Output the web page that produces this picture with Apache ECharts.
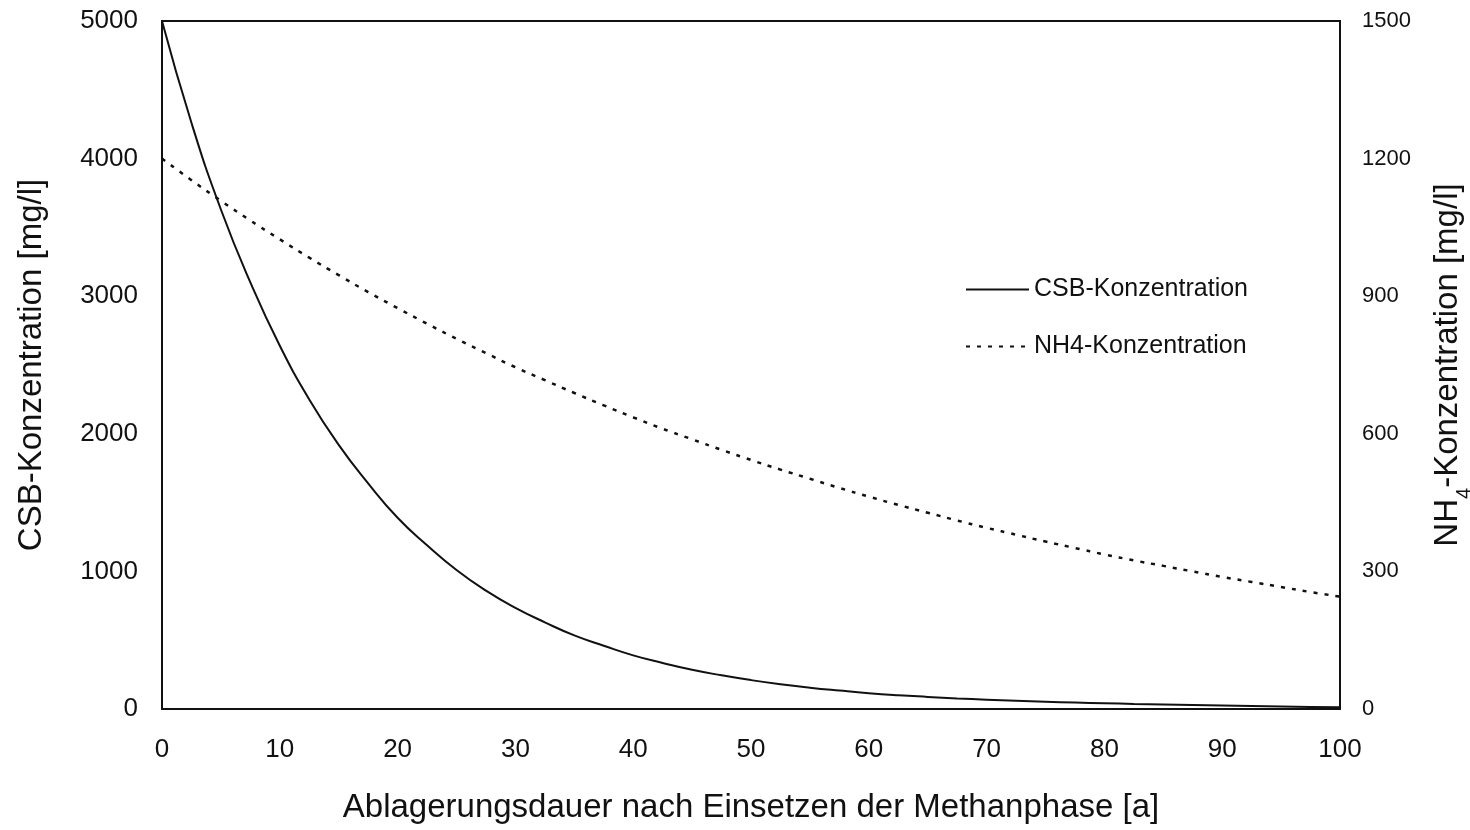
<!DOCTYPE html>
<html>
<head>
<meta charset="utf-8">
<script src="https://cdn.jsdelivr.net/npm/echarts@6/dist/echarts.min.js"></script>
<style>
html,body{margin:0;padding:0;background:#fff;}
#c{width:1470px;height:830px;}
</style>
</head>
<body>
<div id="c"></div>
<script>
const years = [0,2.5,5,7.5,10,12.5,15,17.5,20,22.5,25,27.5,30,32.5,35,37.5,40,42.5,45,47.5,50,52.5,55,57.5,60,62.5,65,67.5,70,72.5,75,77.5,80,82.5,85,87.5,90,92.5,95,97.5,100];
const csb   = [5000,4260,3630,3100,2640,2250,1920,1640,1390,1190,1010,860,735,630,535,460,390,335,285,245,210,180,155,134,115,100,88,77,68,60,53,47,42,37,33,29,25,21,18,15,12];
const nh4   = [1200,1153,1108,1065,1024,984,946,909,874,840,807,776,745,717,689,662,636,611,588,565,543,522,502,482,463,445,428,411,395,380,365,351,337,324,312,300,288,277,266,255,245];
const xTicks = [0,10,20,30,40,50,60,70,80,90,100];
const leftTicks = [0,1000,2000,3000,4000,5000];
const rightTicks = [0,300,600,900,1200,1500];
const seriesNames = ['CSB-Konzentration','NH4-Konzentration'];

const FONT = '"Liberation Sans", Arial, sans-serif';
const chart = echarts.init(document.getElementById('c'));
chart.setOption({
  backgroundColor: '#ffffff',
  animation: false,
  grid: {left:162, right:130, top:21, bottom:121, outerBoundsMode:'none', containLabel:false,
         show:true, borderColor:'#111', borderWidth:2, backgroundColor:'#fff'},
  legend: {
    orient:'vertical', left:965, top:277, padding:0, itemWidth:63, itemHeight:14, itemGap:32,
    data: seriesNames,
    itemStyle:{color:'rgba(0,0,0,0)', borderColor:'rgba(0,0,0,0)', borderWidth:0},
    textStyle:{fontFamily:FONT, fontSize:25, color:'#111'}
  },
  xAxis: {
    type:'value', min:xTicks[0], max:xTicks[xTicks.length-1], interval:10,
    name:'Ablagerungsdauer nach Einsetzen der Methanphase [a]',
    nameLocation:'middle', nameGap:82,
    nameTextStyle:{fontFamily:FONT, fontSize:33, color:'#111'},
    axisLine:{show:true, lineStyle:{color:'#111', width:2}},
    axisTick:{show:false}, splitLine:{show:false},
    axisLabel:{fontFamily:FONT, fontSize:26, color:'#111', margin:28, formatter:v=>String(v)}
  },
  yAxis: [{
    type:'value', min:leftTicks[0], max:leftTicks[leftTicks.length-1], interval:1000,
    name:'CSB-Konzentration [mg/l]', nameLocation:'middle', nameGap:114, nameRotate:90,
    nameTextStyle:{fontFamily:FONT, fontSize:33, color:'#111'},
    axisLine:{show:true, lineStyle:{color:'#111', width:2}},
    axisTick:{show:false}, splitLine:{show:false},
    axisLabel:{fontFamily:FONT, fontSize:26, color:'#111', margin:24, formatter:v=>String(v)}
  },{
    type:'value', position:'right', min:rightTicks[0], max:rightTicks[rightTicks.length-1], interval:300,
    name:'NH{s|4}-Konzentration [mg/l]', nameLocation:'middle', nameGap:91, nameRotate:90,
    nameTextStyle:{fontFamily:FONT, fontSize:33, color:'#111', rich:{s:{fontFamily:FONT, fontSize:20, color:'#111', verticalAlign:'bottom', padding:[0,0,-10,0]}}},
    axisLine:{show:true, lineStyle:{color:'#111', width:2}},
    axisTick:{show:false}, splitLine:{show:false},
    axisLabel:{fontFamily:FONT, fontSize:22, color:'#111', margin:22, formatter:v=>String(v)}
  }],
  series: [{
    name:seriesNames[0], type:'line', yAxisIndex:0, smooth:true, symbol:'none',
    lineStyle:{color:'#111', width:2, type:'solid'}, itemStyle:{color:'#111'},
    data: years.map((x,i)=>[x,csb[i]])
  },{
    name:seriesNames[1], type:'line', yAxisIndex:1, smooth:true, symbol:'none',
    lineStyle:{color:'#111', width:2.5, type:[4,7]}, itemStyle:{color:'#111'},
    data: years.map((x,i)=>[x,nh4[i]])
  }]
});
</script>
</body>
</html>
